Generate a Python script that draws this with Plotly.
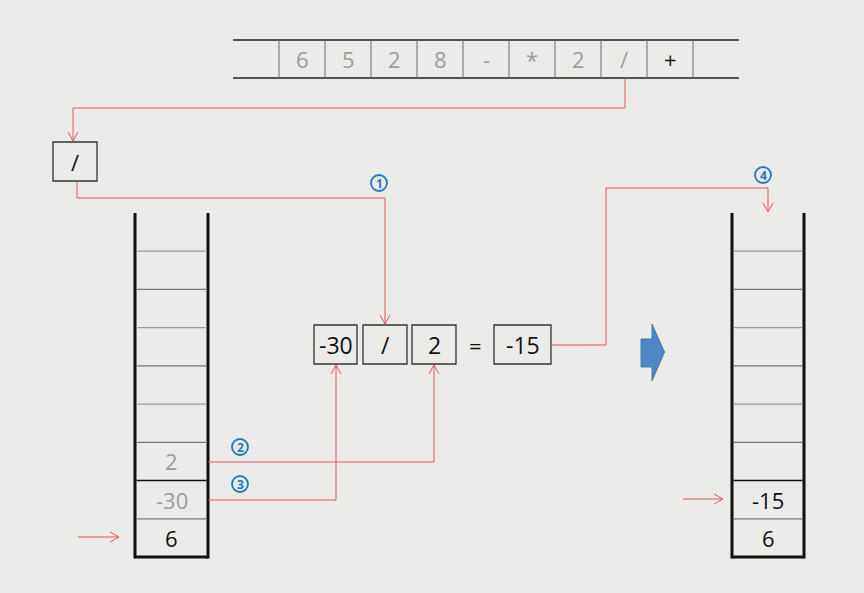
import plotly.graph_objects as go

# input expression tokens (postfix), first/last cells of the strip are empty
tokens = ["", "6", "5", "2", "8", "-", "*", "2", "/", "+", ""]
token_done = [False, True, True, True, True, True, True, True, True, False, False]

# stack contents, bottom -> top
left_stack = ["6", "-30", "2"]
left_grey = [False, True, True]
right_stack = ["6", "-15"]
right_grey = [False, False]

# the operation being evaluated
expr_labels = ["-30", "/", "2", "=", "-15"]
step_labels = ["1", "2", "3", "4"]

BG = "#ebebe9"
RED = "#e05858"
BLUE = "#1f78c1"
GREY_TXT = "#9c9c9c"
FONT = "Open Sans"

shapes = []
annots = []


def line(x0, y0, x1, y1, color="#222", width=1.0):
    shapes.append(dict(type="line", x0=x0, y0=y0, x1=x1, y1=y1,
                       line=dict(color=color, width=width)))


def rect(x0, y0, x1, y1, color="#333", width=1.3):
    shapes.append(dict(type="rect", x0=x0, y0=y0, x1=x1, y1=y1,
                       line=dict(color=color, width=width)))


def text(x, y, s, size=20, color="#111"):
    annots.append(dict(x=x, y=y, text=s, showarrow=False,
                       font=dict(family=FONT, size=size, color=color),
                       xanchor="center", yanchor="middle"))


def red_path(pts, head):
    # polyline ending in an open "V" arrow head
    d = "M %s,%s " % pts[0] + " ".join("L %s,%s" % p for p in pts[1:])
    shapes.append(dict(type="path", path=d, line=dict(color=RED, width=1)))
    x, y = pts[-1]
    if head == "down":
        h = "M %s,%s L %s,%s L %s,%s" % (x - 5, y - 9, x, y, x + 5, y - 9)
    elif head == "up":
        h = "M %s,%s L %s,%s L %s,%s" % (x - 5, y + 9, x, y, x + 5, y + 9)
    else:
        h = "M %s,%s L %s,%s L %s,%s" % (x - 9, y - 5, x, y, x - 9, y + 5)
    shapes.append(dict(type="path", path=h, line=dict(color=RED, width=1)))


def step(x, y, n):
    shapes.append(dict(type="circle", x0=x - 8, y0=y - 8, x1=x + 8, y1=y + 8,
                       line=dict(color=BLUE, width=1.8)))
    annots.append(dict(x=x, y=y + 0.5, text="<b>%s</b>" % n, showarrow=False,
                       font=dict(family=FONT, size=12, color=BLUE),
                       xanchor="center", yanchor="middle"))


# token strip
sx0, cw, sy0, sy1 = 233, 46, 40, 78
line(sx0, sy0, sx0 + cw * len(tokens), sy0, "#222", 1.4)
line(sx0, sy1, sx0 + cw * len(tokens), sy1, "#222", 1.4)
for i, t in enumerate(tokens):
    if i > 0:
        line(sx0 + cw * i, sy0, sx0 + cw * i, sy1, "#6a6a6a", 1)
    if t:
        text(sx0 + cw * i + cw / 2, (sy0 + sy1) / 2, t, 22,
             GREY_TXT if token_done[i] else "#111")


# stacks
def stack(xl, xr, items, grey):
    top, bot, n = 213, 557, 9
    h = (bot - top) / n
    line(xl, top, xl, bot + 1.5, "#111", 3)
    line(xr, top, xr, bot + 1.5, "#111", 3)
    line(xl, bot, xr, bot, "#111", 3)
    for k in range(1, n):
        y = bot - h * k
        col = "#111" if k == 2 else ("#777" if k % 2 else "#999")
        line(xl + 1.5, y, xr - 1.5, y, col, 1.5 if k == 2 else 1.3)
    for k, v in enumerate(items):
        text((xl + xr) / 2, bot - h * k - h / 2, v, 22, GREY_TXT if grey[k] else "#111")


stack(135, 208, left_stack, left_grey)
stack(732, 804, right_stack, right_grey)

# current operator box
rect(53, 142, 97, 181)
text(75, 161.5, "/", 22)

# expression boxes
ex = [(314, 357), (363, 407), (412, 456), None, (494, 551)]
for lab, b in zip(expr_labels, ex):
    if b is None:
        text(475, 345, lab, 22)
    else:
        rect(b[0], 325, b[1], 364)
        text((b[0] + b[1]) / 2, 344.5, lab, 23)

# blue block arrow
shapes.append(dict(type="path",
                   path="M 641,339 L 652,339 L 652,324 L 664.5,352 L 652,381 L 652,367 L 641,367 Z",
                   fillcolor="#4f86c6", line=dict(color="#3e7fae", width=1)))

# red connectors
red_path([(625, 78), (625, 108), (73, 108), (73, 141)], "down")
red_path([(77, 181), (77, 198), (385, 198), (385, 324)], "down")
red_path([(208, 462), (434, 462), (434, 365)], "up")
red_path([(208, 500), (336, 500), (336, 365)], "up")
red_path([(551, 345), (606, 345), (606, 188), (768, 188), (768, 212)], "down")
red_path([(78, 537), (119, 537)], "right")
red_path([(683, 499), (723, 499)], "right")

# step markers
for (x, y), n in zip([(379, 183), (240, 447), (240, 484), (763, 175)], step_labels):
    step(x, y, n)

fig = go.Figure(go.Scatter(x=[0, 864], y=[0, 593], mode="markers",
                           marker=dict(opacity=0), hoverinfo="skip", showlegend=False))
fig.update_layout(width=864, height=593, margin=dict(l=0, r=0, t=0, b=0),
                  paper_bgcolor=BG, plot_bgcolor=BG,
                  shapes=shapes, annotations=annots,
                  xaxis=dict(range=[0, 864], visible=False, fixedrange=True),
                  yaxis=dict(range=[593, 0], visible=False, fixedrange=True))
fig.write_html("out.html", config=dict(displayModeBar=False),
               post_script="document.body.style.margin='0';"
                           "document.body.style.overflow='hidden';")
